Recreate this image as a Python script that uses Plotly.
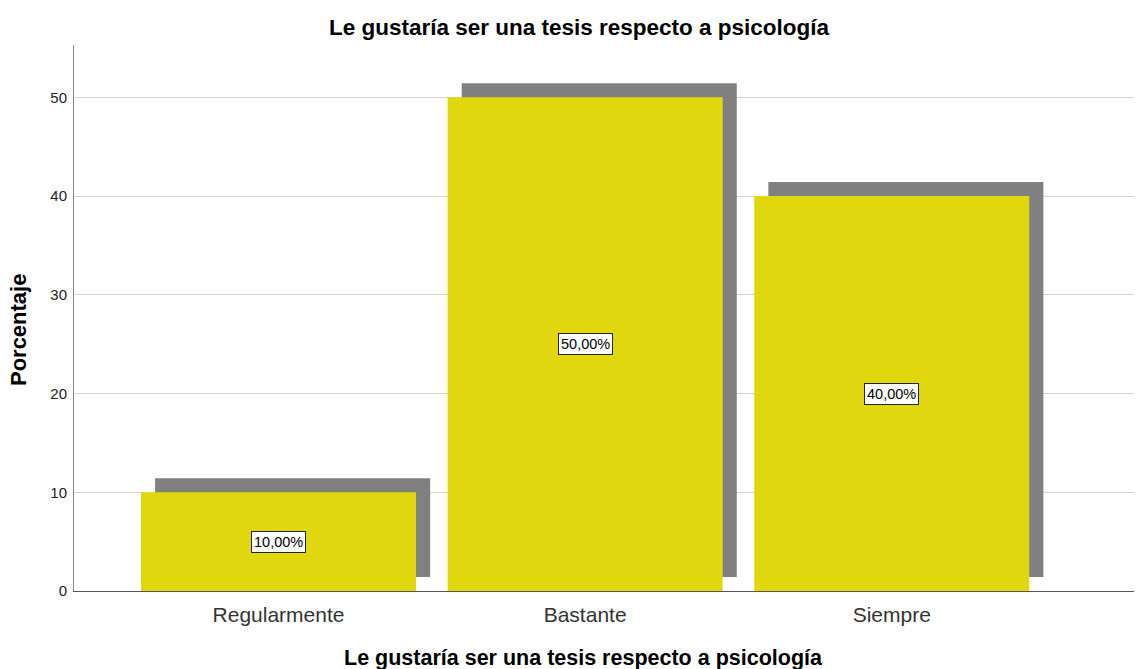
import plotly.graph_objects as go

categories = ["Regularmente", "Bastante", "Siempre"]
values = [10.0, 50.0, 40.0]
labels = ["10,00%", "50,00%", "40,00%"]
yticks = [0, 10, 20, 30, 40, 50]
title_text = "Le gustaría ser una tesis respecto a psicología"
x_title = "Le gustaría ser una tesis respecto a psicología"
y_title = "Porcentaje"

positions = list(range(len(categories)))
shadow_dx = 0.046
shadow_dy = 1.42
bar_width = 0.897

fig = go.Figure()
fig.add_trace(go.Bar(
    x=[p + shadow_dx for p in positions], y=values, base=shadow_dy,
    width=bar_width, marker=dict(color="#808080", line=dict(width=0)),
    hoverinfo="skip", showlegend=False,
))
fig.add_trace(go.Bar(
    x=positions, y=values, width=bar_width,
    marker=dict(color="#E1D70E", line=dict(width=0)),
    showlegend=False,
))

for p, v, t in zip(positions, values, labels):
    fig.add_annotation(
        x=p, y=v / 2, text=t, showarrow=False,
        font=dict(family="Liberation Sans, Arial", size=14.5, color="black"),
        bgcolor="white", bordercolor="#222222", borderwidth=1, borderpad=2,
    )

# axis titles as annotations for precise placement
fig.add_annotation(
    xref="paper", yref="paper", x=0.481, y=-0.1227, xanchor="center", yanchor="middle",
    text=f"<b>{x_title}</b>", showarrow=False,
    font=dict(family="Liberation Sans, Arial", size=21.5, color="black"),
)
fig.add_annotation(
    xref="paper", yref="paper", x=-0.0528, y=0.478, xanchor="center", yanchor="middle",
    text=f"<b>{y_title}</b>", showarrow=False, textangle=-90, borderpad=0,
    font=dict(family="Liberation Sans, Arial", size=22, color="black"),
)

fig.update_layout(
    width=1136, height=669,
    margin=dict(l=74, r=2, t=45, b=78),
    paper_bgcolor="white", plot_bgcolor="white",
    barmode="overlay",
    title=dict(text=f"<b>{title_text}</b>",
               x=0.5097, xanchor="center", y=0.9596, yanchor="middle",
               font=dict(family="Liberation Sans, Arial", size=22.5, color="black")),
    font=dict(family="Liberation Sans, Arial", color="black"),
)
fig.update_xaxes(
    range=[-0.667, 2.79], tickmode="array", tickvals=positions, ticktext=categories,
    showgrid=False, showline=True, linecolor="#555555", linewidth=1,
    ticks="", tickfont=dict(size=21, color="#333333"), ticklabelstandoff=5,
    zeroline=False, automargin=False,
)
fig.update_yaxes(
    range=[0, 55.3], tickmode="array", tickvals=yticks,
    showgrid=True, gridcolor="#D3D3D3", gridwidth=1,
    showline=True, linecolor="#888888", linewidth=1,
    ticks="", tickfont=dict(size=15, color="#222222"), ticklabelstandoff=3,
    zeroline=False, automargin=False,
)

fig.write_html("out.html", config={"displayModeBar": False},
               post_script="document.body.style.margin='0';document.body.style.overflow='hidden';")
